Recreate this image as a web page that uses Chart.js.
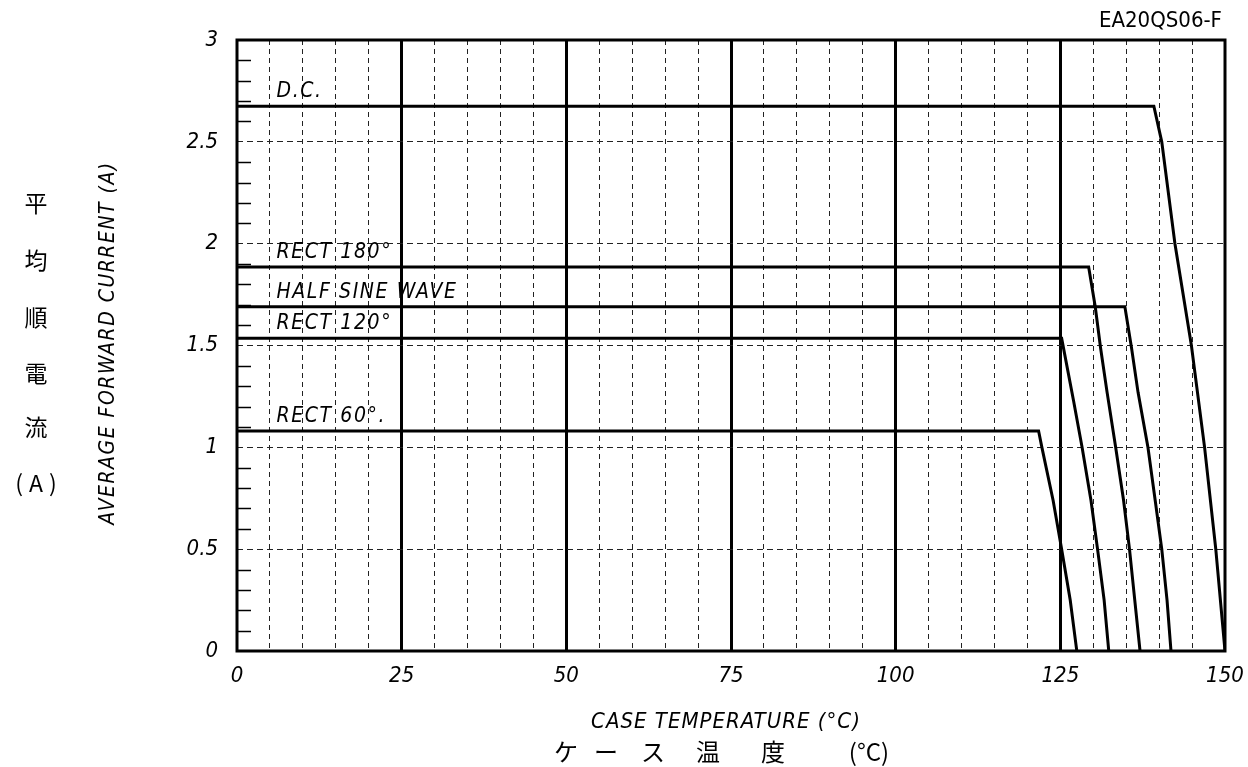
<!DOCTYPE html>
<html><head><meta charset="utf-8">
<script src="https://cdn.jsdelivr.net/npm/chart.js@4.4.1/dist/chart.umd.min.js"></script>
<style>html,body{margin:0;padding:0;background:#fff;}</style>
</head><body>
<canvas id="c" width="1248" height="767"></canvas>
<script>
// ---- data ----
const seriesNames = ['D.C.', 'RECT 180°', 'HALF SINE WAVE', 'RECT 120°', 'RECT 60°.'];
const dcTemp = [0, 139.2, 140.4, 142.4, 144.9, 146.9, 148.6, 150];
const dcCurrent = [2.675, 2.675, 2.5, 2.0, 1.5, 1.0, 0.5, 0];
const rect180Temp = [0, 129.3, 130.3, 131.1, 132.1, 133.4, 134.6, 135.5, 136.3, 137.1];
const rect180Current = [1.885, 1.885, 1.69, 1.49, 1.27, 1.0, 0.74, 0.5, 0.25, 0];
const halfSineTemp = [0, 134.8, 135.8, 136.8, 138.3, 139.4, 140.4, 141.2, 141.8];
const halfSineCurrent = [1.69, 1.69, 1.49, 1.27, 1.0, 0.74, 0.5, 0.25, 0];
const rect120Temp = [0, 125.2, 127.0, 128.3, 129.65, 130.65, 131.65, 132.35];
const rect120Current = [1.535, 1.535, 1.23, 1.0, 0.74, 0.5, 0.25, 0];
const rect60Temp = [0, 121.7, 122.2, 123.9, 125.2, 126.5, 127.5];
const rect60Current = [1.08, 1.08, 1.0, 0.74, 0.5, 0.25, 0];

const xTickValues = [0, 25, 50, 75, 100, 125, 150];
const yTickValues = [0, 0.5, 1, 1.5, 2, 2.5, 3];
const labelTemp = 6;   // where the in-plot series names start

const chartId = 'EA20QS06-F';
const xTitleEn = 'CASE TEMPERATURE (°C)';
const xTitleJa = ['ケ', 'ー', 'ス', '温', '度', '(°C)'];
const yTitleEn = 'AVERAGE FORWARD CURRENT (A)';
const yTitleJa = ['平', '均', '順', '電', '流', '(A)'];

// ---- build ----
const temps = [dcTemp, rect180Temp, halfSineTemp, rect120Temp, rect60Temp];
const currents = [dcCurrent, rect180Current, halfSineCurrent, rect120Current, rect60Current];
const FONT = "'DejaVu Sans Condensed', 'Liberation Sans Narrow', 'DejaVu Sans', sans-serif";

const datasets = seriesNames.map((name, i) => ({
  label: name,
  data: temps[i].map((t, j) => ({x: t, y: currents[i][j]})),
  borderColor: '#000',
  borderWidth: 3,
  pointRadius: 0,
  fill: false,
  tension: 0
}));

const frameAndMinor = {
  id: 'frameAndMinor',
  beforeDatasetsDraw(chart) {
    const {ctx, chartArea: a, scales: {y}} = chart;
    ctx.save();
    ctx.strokeStyle = '#000';
    ctx.lineWidth = 1.5;
    for (let k = 1; k < 30; k++) {
      if (k % 5 === 0) continue;
      const py = Math.round(y.getPixelForValue(k / 10)) + 0.5;
      ctx.beginPath();
      ctx.moveTo(a.left, py);
      ctx.lineTo(a.left + 14, py);
      ctx.stroke();
    }
    ctx.lineWidth = 3;
    ctx.strokeRect(a.left, a.top, a.right - a.left, a.bottom - a.top);
    ctx.restore();
  },
  afterDatasetsDraw(chart) {
    const {ctx, scales: {x, y}} = chart;
    ctx.save();
    ctx.fillStyle = '#000';
    ctx.font = 'italic 21px ' + FONT;
    ctx.textAlign = 'left';
    ctx.textBaseline = 'bottom';
    try { ctx.letterSpacing = '1.6px'; } catch (e) {}
    seriesNames.forEach((name, i) => {
      ctx.fillText(name, x.getPixelForValue(labelTemp), y.getPixelForValue(currents[i][0]) - 4);
    });
    ctx.restore();
  },
  afterDraw(chart) {
    const {ctx} = chart;
    ctx.save();
    ctx.fillStyle = '#000';
    try { ctx.letterSpacing = '0px'; } catch (e) {}
    // chart id
    ctx.font = '22px ' + FONT;
    ctx.textAlign = 'right';
    ctx.textBaseline = 'middle';
    ctx.fillText(chartId, 1222, 21);
    // x title english
    ctx.font = 'italic 22px ' + FONT;
    ctx.textAlign = 'center';
    try { ctx.letterSpacing = '1px'; } catch (e) {}
    ctx.fillText(xTitleEn, 726, 722);
    // x title japanese
    try { ctx.letterSpacing = '0px'; } catch (e) {}
    ctx.font = "24px 'Noto Sans CJK JP', sans-serif";
    const jx = [566, 606, 653, 708, 773, 869];
    xTitleJa.forEach((ch, i) => ctx.fillText(ch, jx[i], 752));
    // y title japanese (stacked)
    const jy = [203, 260, 317, 373, 427, 483];
    ctx.font = "23px 'Noto Sans CJK JP', sans-serif";
    yTitleJa.forEach((ch, i) => {
      if (ch === '(A)') {
        try { ctx.letterSpacing = '6px'; } catch (e) {}
        ctx.fillText('(A)', 39, jy[i]);
        try { ctx.letterSpacing = '0px'; } catch (e) {}
      } else ctx.fillText(ch, 36, jy[i]);
    });
    // y title english (rotated)
    ctx.translate(109, 343);
    ctx.rotate(-Math.PI / 2);
    ctx.font = 'italic 21px ' + FONT;
    try { ctx.letterSpacing = '1.5px'; } catch (e) {}
    ctx.fillText(yTitleEn, 0, 0);
    ctx.restore();
  }
};

new Chart(document.getElementById('c'), {
  type: 'line',
  data: {datasets},
  options: {
    responsive: false,
    animation: false,
    devicePixelRatio: 1,
    layout: {padding: {top: 40, right: 23, left: 0, bottom: 0}},
    plugins: {legend: {display: false}, tooltip: {enabled: false}},
    scales: {
      x: {
        type: 'linear', min: 0, max: 150,
        afterFit(s) { s.height = 116; s.paddingLeft = 0; s.paddingRight = 0; },
        afterBuildTicks(s) {
          const t = [];
          for (let v = 0; v <= 150; v += 5) t.push({value: v});
          s.ticks = t;
        },
        ticks: {
          autoSkip: false, maxRotation: 0, padding: 12, color: '#000',
          font: {family: FONT, size: 22, style: 'italic'},
          callback: v => xTickValues.includes(v) ? String(v) : ''
        },
        grid: {
          drawTicks: false,
          color: c => (c.tick && (c.tick.value === 0 || c.tick.value === 150)) ? 'rgba(0,0,0,0)' : (c.tick && c.tick.value % 25 === 0 ? '#000' : '#222'),
          lineWidth: c => (c.tick && c.tick.value % 25 === 0) ? 3 : 1
        },
        border: {
          display: false,
          dash: c => (c.tick && c.tick.value % 25 === 0) ? [] : [5, 4]
        }
      },
      y: {
        type: 'linear', min: 0, max: 3,
        afterFit(s) { s.width = 237; s.paddingTop = 0; s.paddingBottom = 0; },
        afterBuildTicks(s) { s.ticks = yTickValues.map(v => ({value: v})); },
        ticks: {
          padding: 19, color: '#000',
          font: {family: FONT, size: 22, style: 'italic'},
          callback: v => String(v)
        },
        grid: {
          drawTicks: false,
          color: c => (c.tick && (c.tick.value === 0 || c.tick.value === 3)) ? 'rgba(0,0,0,0)' : '#222',
          lineWidth: 1
        },
        border: {display: false, dash: [6, 4]}
      }
    }
  },
  plugins: [frameAndMinor]
});
</script>
</body></html>
